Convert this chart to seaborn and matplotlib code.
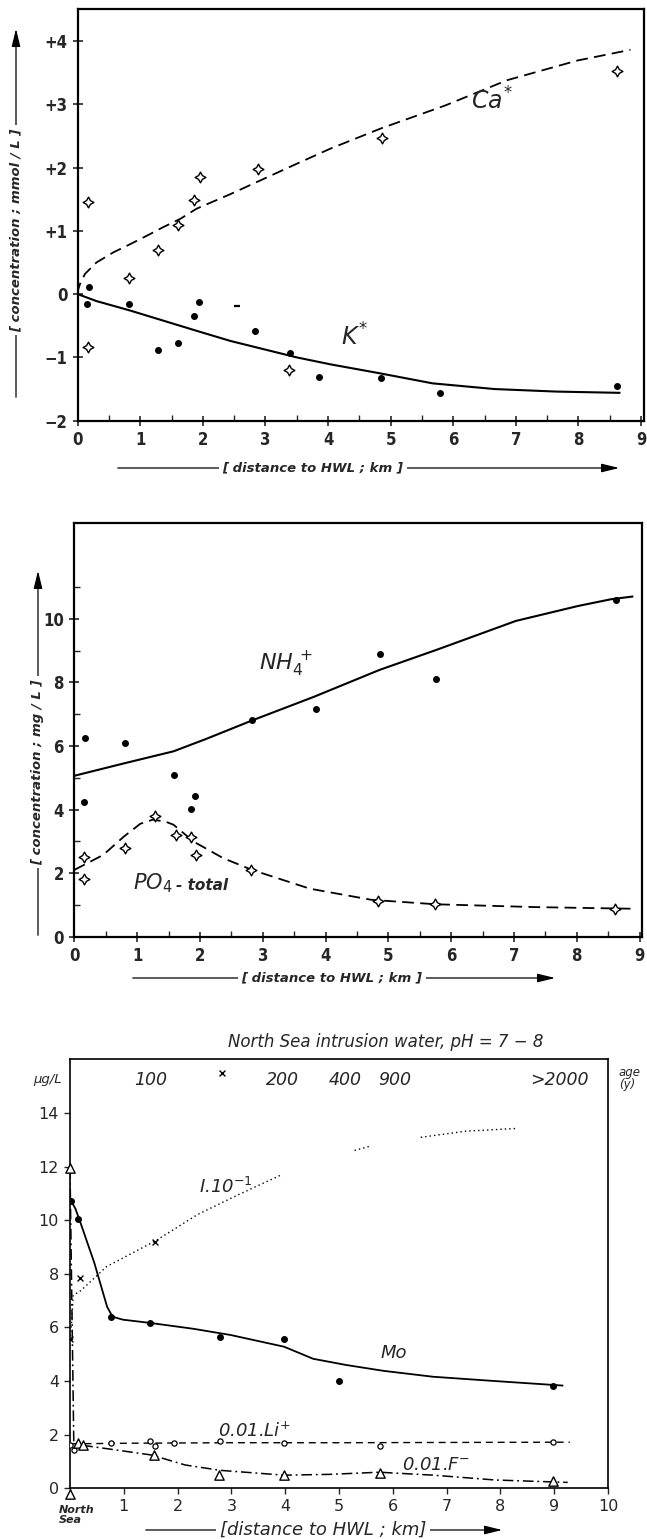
import matplotlib
matplotlib.use("Agg")
import matplotlib.pyplot as plt
import seaborn as sns
from matplotlib.patches import FancyArrowPatch
from matplotlib.ticker import MultipleLocator, FixedLocator

# ---------------- Panel 1: Ca* and K* (mmol/L) ----------------
ca_pts_x = [0.16, 0.16, 0.82, 1.29, 1.61, 1.85, 1.95, 2.88, 3.37, 4.86, 8.62]
ca_pts_y = [1.45, -0.83, 0.25, 0.69, 1.09, 1.48, 1.85, 1.98, -1.20, 2.47, 3.52]
k_pts_x = [0.18, 0.15, 0.82, 1.29, 1.61, 1.86, 1.93, 2.83, 3.39, 3.86, 4.85, 5.78, 8.61]
k_pts_y = [0.11, -0.16, -0.16, -0.88, -0.77, -0.35, -0.13, -0.58, -0.93, -1.31, -1.32, -1.57, -1.45]
k_dash_x = [2.55]
k_dash_y = [-0.18]
ca_fit_x = [0.0, 0.01, 0.037, 0.117, 0.30, 0.57, 0.84, 1.10, 1.37, 1.64, 1.90, 2.44, 2.97,
            3.50, 4.04, 4.85, 5.87, 6.86, 7.98, 8.83]
ca_fit_y = [0.0, 0.08, 0.16, 0.32, 0.50, 0.66, 0.79, 0.92, 1.06, 1.19, 1.35, 1.58, 1.82,
            2.06, 2.30, 2.62, 2.98, 3.38, 3.69, 3.86]
k_fit_x = [0.0, 0.30, 0.84, 1.37, 1.90, 2.44, 2.97, 3.50, 4.04, 4.82, 5.67, 6.66, 7.65, 8.67]
k_fit_y = [0.0, -0.11, -0.26, -0.42, -0.58, -0.74, -0.87, -1.00, -1.11, -1.25, -1.41,
           -1.50, -1.54, -1.56]

# ---------------- Panel 2: NH4+ and PO4-total (mg/L) ----------------
nh4_pts_x = [0.17, 0.15, 0.81, 1.59, 1.85, 1.92, 2.83, 3.84, 4.86, 5.76, 8.62]
nh4_pts_y = [6.25, 4.24, 6.10, 5.09, 4.02, 4.42, 6.80, 7.17, 8.90, 8.10, 10.59]
nh4_fit_x = [0.0, 0.79, 1.58, 2.10, 2.83, 3.81, 4.86, 5.78, 7.03, 8.02, 8.54, 8.90]
nh4_fit_y = [5.06, 5.45, 5.83, 6.22, 6.80, 7.54, 8.39, 9.03, 9.93, 10.40, 10.61, 10.70]
po4_pts_x = [0.16, 0.15, 0.81, 1.28, 1.62, 1.85, 1.94, 2.81, 4.84, 5.75, 8.61]
po4_pts_y = [2.52, 1.83, 2.80, 3.79, 3.19, 3.13, 2.57, 2.10, 1.12, 1.02, 0.88]
po4_fit_x = [0.0, 0.46, 0.79, 1.05, 1.25, 1.45, 1.58, 1.90, 2.37, 2.83, 3.75, 4.73,
             5.75, 7.36, 8.87]
po4_fit_y = [2.10, 2.57, 3.15, 3.55, 3.68, 3.62, 3.52, 2.99, 2.47, 2.10, 1.51, 1.16,
             1.02, 0.93, 0.88]

# ---------------- Panel 3: trace elements (ug/L) ----------------
mo_pts_x = [0.015, 0.15, 0.77, 1.48, 2.79, 3.98, 5.00, 8.98]
mo_pts_y = [10.73, 10.03, 6.40, 6.17, 5.64, 5.56, 3.99, 3.83]
mo_fit_x = [0.0, 0.10, 0.18, 0.45, 0.69, 0.79, 0.98, 1.48, 2.29, 2.98, 3.98, 4.52,
            5.13, 5.83, 6.75, 7.90, 9.17]
mo_fit_y = [10.80, 10.43, 9.99, 8.42, 6.77, 6.40, 6.29, 6.17, 5.95, 5.72, 5.28, 4.83,
            4.60, 4.38, 4.16, 4.00, 3.83]
iod_pts_x = [0.0, 0.19, 1.58, 2.82]
iod_pts_y = [5.57, 7.85, 9.19, 15.50]
iod_fit_x = [0.0, 0.03, 0.06, 0.20, 0.68, 1.60, 2.37, 3.14, 3.94,
             5.29, 5.56,
             6.52, 7.36, 8.29]
iod_fit_y = [5.50, 6.20, 7.20, 7.37, 8.27, 9.24, 10.21, 10.96, 11.70,
             12.60, 12.75,
             13.09, 13.32, 13.42]
iod_fit_seg = [0, 0, 0, 0, 0, 0, 0, 0, 0,
               1, 1,
               2, 2, 2]
li_pts_x = [0.0, 0.08, 0.77, 1.48, 1.58, 1.94, 2.79, 3.98, 5.77, 8.98]
li_pts_y = [1.61, 1.42, 1.69, 1.76, 1.58, 1.69, 1.76, 1.69, 1.58, 1.72]
li_fit_x = [0.05, 1.0, 3.0, 5.0, 7.0, 9.29]
li_fit_y = [1.66, 1.68, 1.70, 1.70, 1.71, 1.72]
f_pts_x = [0.0, 0.0, 0.14, 0.24, 1.56, 2.77, 3.97, 5.76, 8.98]
f_pts_y = [11.93, -0.21, 1.69, 1.61, 1.24, 0.49, 0.49, 0.57, 0.27]
f_fit_x = [0.0, 0.07, 0.21, 0.75, 1.52, 2.14, 2.79, 3.98, 4.83, 5.75, 6.75, 7.90, 9.25]
f_fit_y = [11.93, 1.75, 1.61, 1.46, 1.24, 0.87, 0.67, 0.49, 0.52, 0.60, 0.49, 0.31, 0.22]
age_labels = ["100", "200", "400", "900", ">2000"]
age_x = [1.49, 3.94, 5.12, 6.04, 9.09]

# ---------------- style ----------------
sns.set_theme(style="ticks")
plt.rcParams["font.family"] = ["DejaVu Sans"]
plt.rcParams["mathtext.fontset"] = "dejavusans"
plt.rcParams["mathtext.default"] = "it"

W, H = 647, 1539
fig = plt.figure(figsize=(W / 100, H / 100), dpi=100)


def fpos(px, py):
    return px / W, 1 - py / H


def add_axes(left, top, right, bottom):
    l, t = fpos(left, top)
    r, b = fpos(right, bottom)
    return fig.add_axes([l, b, r - l, t - b])


def draw_line(ax, x, y, dashes=None, lw=1.3, units=None):
    n0 = len(ax.lines)
    sns.lineplot(x=x, y=y, ax=ax, color="black", lw=lw, estimator=None, sort=False,
                 units=units, legend=False, zorder=2)
    for ln in ax.lines[n0:]:
        ln.set_solid_capstyle("butt")
        if dashes is not None:
            ln.set_dashes(dashes)


def draw_points(ax, x, y, marker, s, filled=True, lw=1.0, clip=True):
    sns.scatterplot(x=x, y=y, ax=ax, marker=marker, s=s,
                    facecolor="black" if filled else "white",
                    edgecolor="black", linewidth=lw, zorder=4, legend=False,
                    clip_on=clip)


def arrow_label(text, start, tip, center, rotation, **kw):
    fig.add_artist(FancyArrowPatch(fpos(*start), fpos(*tip), transform=fig.transFigure,
                                   arrowstyle="-|>,head_length=0.9,head_width=0.22",
                                   mutation_scale=12, lw=0.9, color="black", zorder=1))
    fig.text(*fpos(*center), text, rotation=rotation, ha="center", va="center",
             bbox=dict(fc="white", ec="none", pad=2.5), zorder=3, **kw)


def style_axes(ax, lw=1.4):
    for sp in ax.spines.values():
        sp.set_visible(True)
        sp.set_linewidth(lw)
        sp.set_color("black")
    ax.set_xlabel("")
    ax.set_ylabel("")


star = (4, 1, 0)
bold_tick = dict(fontsize=12, fontweight="bold", fontstretch="condensed")
label_kw = dict(fontsize=9.5, fontweight="bold", fontstyle="italic")

# ---------------- Panel 1 ----------------
ax1 = add_axes(77.7, 9.3, 643.6, 420.7)
draw_line(ax1, ca_fit_x, ca_fit_y, dashes=(6.5, 3.5), lw=1.3)
draw_line(ax1, k_fit_x, k_fit_y, lw=1.5)
draw_points(ax1, ca_pts_x, ca_pts_y, star, 60, filled=False, lw=1.0)
draw_points(ax1, k_pts_x, k_pts_y, "o", 16)
draw_points(ax1, k_dash_x, k_dash_y, "_", 20, lw=1.6)
ax1.set_xlim(0, 9.04)
ax1.set_ylim(-2, 4.5)
ax1.xaxis.set_major_locator(FixedLocator(range(0, 10)))
ax1.xaxis.set_minor_locator(MultipleLocator(0.5))
ax1.set_yticks(range(-2, 5))
ax1.set_yticklabels(["\u22122", "\u22121", "0", "+1", "+2", "+3", "+4"], **bold_tick)
ax1.set_xticklabels([str(i) for i in range(10)], **bold_tick)
ax1.tick_params(which="major", direction="inout", length=7, width=1.2, pad=4)
ax1.tick_params(which="minor", direction="in", length=4, width=1.0)
ax1.text(6.62, 3.05, r"$Ca^{*}$", fontsize=17, ha="center", va="center")
ax1.text(4.42, -0.68, r"$K^{*}$", fontsize=17, ha="center", va="center")
style_axes(ax1, 1.6)
arrow_label("[ concentration ; mmol / L ]", (16, 400), (16, 26), (16, 230), 90, **label_kw)
arrow_label("[ distance to HWL ; km ]", (115, 468), (622, 468), (313, 468), 0, **label_kw)

# ---------------- Panel 2 ----------------
ax2 = add_axes(74.3, 523.3, 641.5, 936.7)
draw_line(ax2, nh4_fit_x, nh4_fit_y, lw=1.5)
draw_line(ax2, po4_fit_x, po4_fit_y, dashes=(6.5, 3.5), lw=1.3)
draw_points(ax2, nh4_pts_x, nh4_pts_y, "o", 16)
draw_points(ax2, po4_pts_x, po4_pts_y, star, 60, filled=False, lw=1.0)
ax2.set_xlim(0, 9.03)
ax2.set_ylim(0, 13)
ax2.xaxis.set_major_locator(FixedLocator(range(0, 10)))
ax2.xaxis.set_minor_locator(MultipleLocator(0.5))
ax2.set_yticks([0, 2, 4, 6, 8, 10])
ax2.yaxis.set_minor_locator(FixedLocator([1, 3, 5, 7, 9, 11]))
ax2.set_yticklabels(["0", "2", "4", "6", "8", "10"], **bold_tick)
ax2.set_xticklabels([str(i) for i in range(10)], **bold_tick)
ax2.tick_params(which="major", direction="inout", length=7, width=1.2, pad=4)
ax2.tick_params(which="minor", direction="in", length=4, width=1.0)
ax2.text(3.37, 8.55, r"$NH_4^{\,+}$", fontsize=16, ha="center", va="center")
ax2.text(1.25, 1.67, r"$PO_4$", fontsize=15, ha="center", va="center")
ax2.text(1.62, 1.62, "- total", fontsize=11, fontweight="bold", fontstyle="italic",
         ha="left", va="center")
style_axes(ax2, 1.6)
arrow_label("[ concentration ; mg / L ]", (38, 938), (38, 568), (38, 772), 90, **label_kw)
arrow_label("[ distance to HWL ; km ]", (130, 978), (558, 978), (332, 978), 0, **label_kw)

# ---------------- Panel 3 ----------------
ax3 = add_axes(70, 1059.3, 608, 1488.3)
draw_line(ax3, mo_fit_x, mo_fit_y, lw=1.3)
draw_line(ax3, iod_fit_x, iod_fit_y, dashes=(1, 2.2), lw=1.0, units=iod_fit_seg)
draw_line(ax3, li_fit_x, li_fit_y, dashes=(5, 3.5), lw=1.0)
draw_line(ax3, f_fit_x, f_fit_y, dashes=(7, 2.5, 1.2, 2.5), lw=1.1)
draw_points(ax3, mo_pts_x, mo_pts_y, "o", 16)
draw_points(ax3, iod_pts_x, iod_pts_y, "x", 18, lw=1.0)
draw_points(ax3, li_pts_x, li_pts_y, "o", 14, filled=False, lw=0.9)
draw_points(ax3, f_pts_x, f_pts_y, "^", 45, filled=False, lw=1.0, clip=False)
ax3.set_xlim(0, 10)
ax3.set_ylim(0, 16)
ax3.set_xticks(range(0, 11))
ax3.set_xticklabels([""] + [str(i) for i in range(1, 11)], fontsize=11.5)
ax3.set_yticks(range(0, 15, 2))
ax3.set_yticklabels([str(i) for i in range(0, 15, 2)], fontsize=11.5)
ax3.tick_params(which="major", direction="out", length=4, width=1.0, pad=4)
style_axes(ax3, 1.2)
it = dict(fontstyle="italic", clip_on=False)
ax3.text(5.87, 16.66, "North Sea intrusion water, pH = 7 \u2212 8", fontsize=12,
         ha="center", va="center", **it)
for lab, xv in zip(age_labels, age_x):
    ax3.text(xv, 15.23, lab, fontsize=12.5, ha="center", va="center", **it)
ax3.text(10.2, 15.3, "age\n(y)", fontsize=8.5, ha="left", va="center",
         linespacing=0.9, **it)
ax3.text(-0.15, 15.23, "\u03bcg/L", fontsize=9.5, ha="right", va="center", **it)
ax3.text(-0.2, -0.62, "North\nSea", fontsize=8, fontweight="bold", ha="left",
         va="top", linespacing=1.0, **it)
ax3.text(2.9, 11.25, "I.10$^{-1}$", fontsize=13, ha="center", va="center", **it)
ax3.text(6.02, 5.05, "Mo", fontsize=13, ha="center", va="center", **it)
ax3.text(3.43, 2.12, "0.01.Li$^{+}$", fontsize=13, ha="center", va="center", **it)
ax3.text(6.8, 0.87, "0.01.F$^{-}$", fontsize=13, ha="center", va="center", **it)
arrow_label("[distance to HWL ; km]", (143, 1530), (505, 1530), (323, 1530), 0,
            fontsize=13, fontstyle="italic")

fig.savefig("out.png", dpi=100)
